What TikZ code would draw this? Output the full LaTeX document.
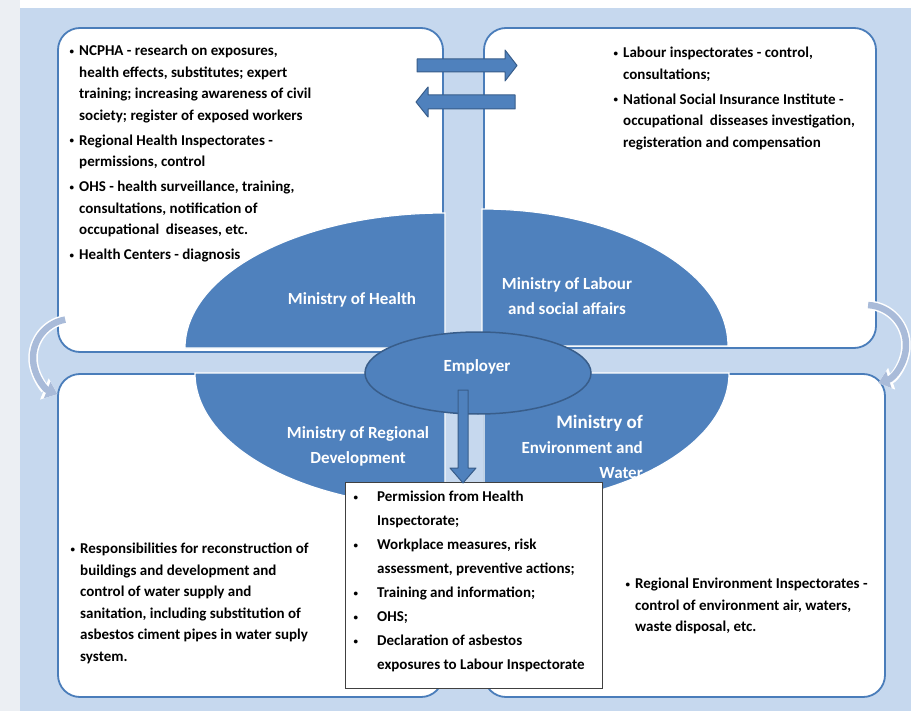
\documentclass[tikz,border=0pt]{standalone}
\usepackage{fontspec}
\setmainfont{Carlito}
\usetikzlibrary{arrows.meta,shapes.geometric}

\definecolor{margin}{HTML}{ECEFF3}
\definecolor{panel}{HTML}{C6D8EE}
\definecolor{boxedge}{HTML}{4A7DBA}
\definecolor{pie}{HTML}{4F81BD}
\definecolor{pieline}{HTML}{385D8A}
\definecolor{cycle}{HTML}{A9BBD9}

\newcommand{\dotmark}{\raisebox{1.6pt}{\fontsize{9}{9}\selectfont\textbullet}}
\newcommand{\itm}{\makebox[11pt][l]{\hspace*{1.5pt}\dotmark}}
\newcommand{\ind}{\hspace*{11pt}}
\newcommand{\titm}{\makebox[25pt][l]{\hspace*{1.5pt}\dotmark}}
\newcommand{\tind}{\hspace*{25pt}}

\tikzset{
  cornerbox/.style={fill=white, draw=boxedge, line width=1.8pt, rounded corners=22pt},
  quadrant/.style={fill=pie, draw=white, line width=1.2pt},
  blockarrow/.style={fill=pie, draw=pieline, line width=1pt, line join=round},
  cyclehalo/.style={draw=white, line width=9.5pt, -{Triangle[width=22pt,length=14pt]}},
  cyclearrow/.style={draw=cycle, line width=6.5pt, -{Triangle[width=17pt,length=11pt]}},
  listtext/.style={anchor=north west, inner sep=0pt, align=left,
    font=\fontsize{15}{21.5}\selectfont\bfseries},
  ministry/.style={text=white, inner sep=0pt, font=\fontsize{17}{25}\selectfont\bfseries}
}

\begin{document}
\begin{tikzpicture}[x=1pt,y=-1pt]
\useasboundingbox (0,0) rectangle (915,711);
% backdrop
\fill[white] (0,0) rectangle (915,711);
\fill[margin] (0,0) rectangle (20,711);
\fill[panel] (20,8) rectangle (911,711);

% the four corner boxes
\draw[cornerbox] (58,28) rectangle (443,352);
\draw[cornerbox] (484,28) rectangle (876,348);
\draw[cornerbox] (58,374) rectangle (443,697);
\draw[cornerbox] (484,374) rectangle (885,697);

% cycle arrows on the sides
\draw[cyclehalo] (72,358) ++(260:39) arc[start angle=260, end angle=112, radius=39];
\draw[cyclearrow] (72,358) ++(260:39) arc[start angle=260, end angle=112, radius=39];
\draw[cyclehalo] (866,345) ++(-87:40) arc[start angle=-87, end angle=72, radius=40];
\draw[cyclearrow] (866,345) ++(-87:40) arc[start angle=-87, end angle=72, radius=40];

% quarters of the centre disc
\draw[quadrant] (445,348) -- (185,348) arc[start angle=180, end angle=270, x radius=260, y radius=135] -- cycle;
\draw[quadrant] (482,346) -- (482,209) arc[start angle=270, end angle=360, x radius=246, y radius=137] -- cycle;
\draw[quadrant] (445,373) -- (195,373) arc[start angle=180, end angle=90, x radius=250, y radius=134] -- cycle;
\draw[quadrant] (484,373) -- (729,373) arc[start angle=0, end angle=90, x radius=245, y radius=133] -- cycle;

% exchange arrows between health and labour
\draw[blockarrow] (417,59) -- (505,59) -- (505,50) -- (517,65.5) -- (505,81) -- (505,72) -- (417,72) -- cycle;
\draw[blockarrow] (515,95) -- (428,95) -- (428,87) -- (416,102) -- (428,117) -- (428,109) -- (515,109) -- cycle;

% employer in the middle
\node[ellipse, fill=pie, draw=pieline, line width=1.5pt, minimum width=226pt, minimum height=82pt,
  inner sep=0pt] (employer) at (478,373) {};
\node[ministry] (employertext) at (477,367) {Employer};

% duties of the employer
\node[draw=black!75, fill=white, line width=0.8pt, anchor=north west, minimum width=257pt,
  minimum height=206pt, inner sep=0pt] (tasks) at (345,482) {};
\draw[blockarrow] (458,390) -- (468,390) -- (468,468) -- (476,468) -- (463,483) -- (450,468) -- (458,468) -- cycle;
\node[listtext, font=\fontsize{15}{24}\selectfont\bfseries] (taskslist) at (352,491) {%
  \titm Permission from Health\\
  \tind Inspectorate;\\
  \titm Workplace measures, risk\\
  \tind assessment, preventive actions;\\
  \titm Training and information;\\
  \titm OHS;\\
  \titm Declaration of asbestos\\
  \tind exposures to Labour Inspectorate};

% ministries
\node[ministry] (health) at (352,300) {Ministry of Health};
\node[ministry, align=center] (labour) at (567,296) {Ministry of Labour\\and social affairs};
\node[ministry, align=center] (regional) at (358,446) {Ministry of Regional\\Development};
\node[ministry, align=right, anchor=east] (environment) at (643,447)
  {{\fontsize{19}{25}\selectfont Ministry of}\\Environment and\\Water};

% institutions under each ministry
\node[listtext] (healthlist) at (68,45) {%
  \itm NCPHA - research on exposures,\\
  \ind health effects, substitutes; expert\\
  \ind training; increasing awareness of civil\\
  \ind society; register of exposed workers\\[3.5pt]
  \itm Regional Health Inspectorates -\\
  \ind permissions, control\\[3.5pt]
  \itm OHS - health surveillance, training,\\
  \ind consultations, notification of\\
  \ind occupational\ \ diseases, etc.\\[3.5pt]
  \itm Health Centers - diagnosis};
\node[listtext] (labourlist) at (612,47) {%
  \itm Labour inspectorates - control,\\
  \ind consultations;\\[3.5pt]
  \itm National Social Insurance Institute -\\
  \ind occupational\ \ disseases investigation,\\
  \ind registeration and compensation};
\node[listtext] (regionallist) at (69,543) {%
  \itm Responsibilities for reconstruction of\\
  \ind buildings and development and\\
  \ind control of water supply and\\
  \ind sanitation, including substitution of\\
  \ind asbestos ciment pipes in water suply\\
  \ind system.};
\node[listtext] (environmentlist) at (624,578) {%
  \itm Regional Environment Inspectorates -\\
  \ind control of environment air, waters,\\
  \ind waste disposal, etc.};
\end{tikzpicture}
\end{document}
